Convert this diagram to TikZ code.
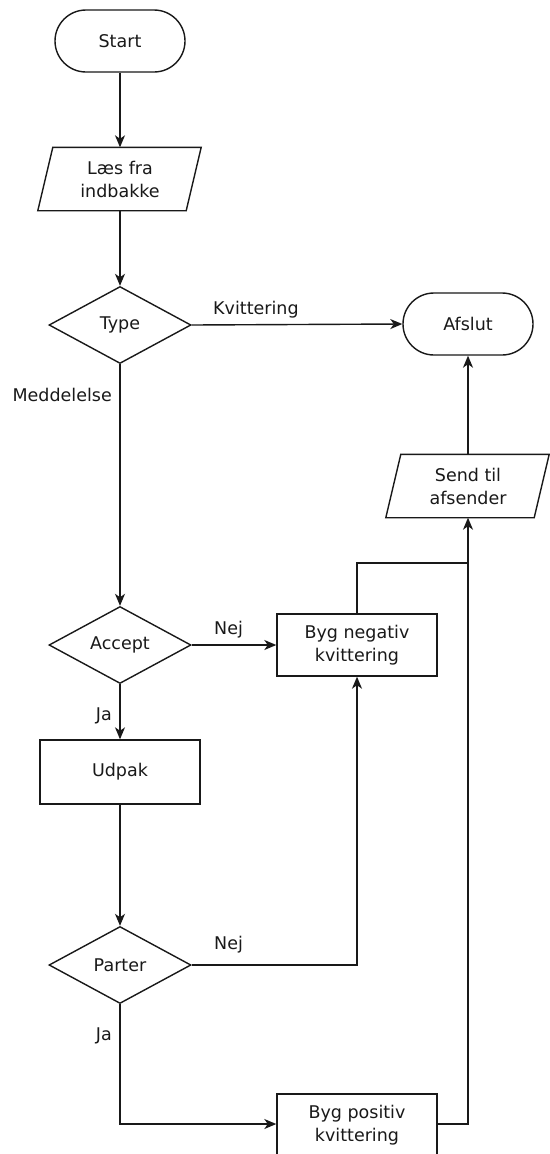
\documentclass[tikz,border=0pt]{standalone}
\usepackage{fontspec}
\setmainfont{DejaVu Sans}
\usetikzlibrary{shapes.geometric,arrows.meta}
\begin{document}
\begin{tikzpicture}[x=1pt,y=-1pt,
  every node/.style={font=\fontsize{17.5}{23}\selectfont, text=black!90},
  line/.style={line width=1.4pt, black!90},
  arr/.style={line, -{Stealth[length=12pt,width=10pt,inset=3.5pt]}},
  term/.style={draw, line width=1.4pt, black!90, rectangle, rounded corners=31pt, minimum width=130pt, minimum height=62pt, inner sep=0pt},
  proc/.style={draw, line width=1.4pt, black!90, rectangle, minimum width=160pt, minimum height=62pt, align=center, inner sep=0pt},
  io/.style={rectangle, minimum width=148pt, minimum height=63pt, align=center, inner sep=0pt},
  dec/.style={draw, line width=1.4pt, black!90, diamond, minimum width=142pt, minimum height=77pt, inner sep=0pt},
  lbl/.style={font=\fontsize{17.5}{20}\selectfont, inner sep=0pt}
]
\useasboundingbox (0,0) rectangle (549,1154);
\fill[white] (0,0) rectangle (549,1154);

\node[term] (start) at (120,41) {Start};
\node[io] (laes) at (120,179) {Læs fra\\indbakke};
\draw[line] ([xshift=7pt]laes.north west) -- ([xshift=7pt]laes.north east) -- ([xshift=-8pt]laes.south east) -- ([xshift=-8pt]laes.south west) -- cycle;
\node[dec] (type) at (120,325) {Type};
\node[term] (afslut) at (468,324) {Afslut};
\node[io] (send) at (468,486) {Send til\\afsender};
\draw[line] ([xshift=7pt]send.north west) -- ([xshift=7pt]send.north east) -- ([xshift=-8pt]send.south east) -- ([xshift=-8pt]send.south west) -- cycle;
\node[dec] (accept) at (120,645) {Accept};
\node[proc] (neg) at (357,645) {Byg negativ\\kvittering};
\node[proc, minimum height=64pt] (udpak) at (120,772) {Udpak};
\node[dec] (parter) at (120,965) {Parter};
\node[proc] (pos) at (357,1125) {Byg positiv\\kvittering};

\coordinate (join) at (468,563);
\coordinate (pcorner) at (357,965);
\coordinate (jcorner) at (120,1124);
\coordinate (rcorner) at (468,1124);

\draw[arr] (start) -- (laes);
\draw[arr] (laes) -- (type);
\draw[arr] (type.east) -- (afslut.west);
\draw[arr] (type.south) -- (accept.north);
\draw[arr] (accept.east) -- (neg.west);
\draw[arr] (accept.south) -- (udpak.north);
\draw[arr] (udpak) -- (parter);
\draw[arr] (parter.east) -- (pcorner) -- (neg.south);
\draw[arr] (parter.south) -- (jcorner) -- (pos.west |- jcorner);
\draw[arr] (pos.east |- rcorner) -- (rcorner) -- (send.south);
\draw[line] (neg.north) -- (neg.north |- join) -- (join);
\draw[arr] (send.north) -- (afslut.south);

\node[lbl, anchor=west] at (213,310) {Kvittering};
\node[lbl, anchor=east] at (112,395) {Meddelelse};
\node[lbl, anchor=west] at (214,630) {Nej};
\node[lbl, anchor=east] at (112,716) {Ja};
\node[lbl, anchor=west] at (214,945) {Nej};
\node[lbl, anchor=east] at (112,1036) {Ja};
\end{tikzpicture}
\end{document}
